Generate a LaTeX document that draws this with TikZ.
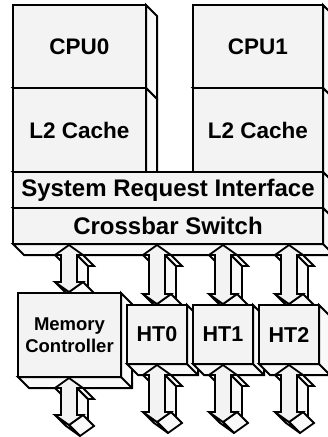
\documentclass[tikz,border=0pt]{standalone}
\usepackage{fontspec}
\setmainfont{Liberation Sans}
\definecolor{frontc}{RGB}{243,243,243}
\definecolor{sidec}{RGB}{249,249,249}
\tikzset{
  box/.style={draw=black, line width=2pt, fill=frontc, inner sep=0pt, align=center,
              font=\bfseries\fontsize{22.5}{24}\selectfont, line join=miter},
  bandtext/.style={font=\bfseries\fontsize{24}{26}\selectfont},
  mctext/.style={font=\bfseries\fontsize{18.5}{22}\selectfont},
  httext/.style={font=\bfseries\fontsize{21.5}{24}\selectfont},
  face/.style={draw=black, line width=2pt, fill=sidec, line join=miter},
  edge3d/.style={draw=black, line width=2pt},
  arrowf/.style={draw=black, line width=1.8pt, fill=frontc, line join=miter},
  arrowside/.style={draw=black, line width=1.8pt, fill=sidec, line join=miter}
}
\newcommand\dd{11}
% [style] name x1 y1 x2 y2 text
\newcommand\blk[7][]{%
  \filldraw[face] (#5,#4) -- ({#5+\dd},{#4+\dd}) -- ({#5+\dd},{#6+\dd}) -- ({#3+\dd},{#6+\dd}) -- (#3,#6) -- (#5,#6) -- cycle;
  \draw[edge3d] (#5,#6) -- ({#5+\dd},{#6+\dd});
  \node[box,#1,minimum width={#5-#3},minimum height={#6-#4}] (#2) at ({(#3+#5)/2},{(#4+#6)/2}) {#7};
}
% 3D double arrow: cx, top tip y, bottom tip y  (head half-width 14, shaft half-width 8, head length 10, depth 11)
\newcommand\arr[3]{%
  \filldraw[arrowside] ({#1-8},{#2+10}) -- ({#1-14},{#2+10}) -- ({#1-3},{#2+21}) -- ({#1+3},{#2+21}) -- cycle;
  \filldraw[arrowside] ({#1+8},{#2+10}) -- ({#1+8},{#3-10}) -- ({#1+19},{#3+1}) -- ({#1+19},{#2+21}) -- cycle;
  \filldraw[arrowside] ({#1+14},{#2+10}) -- ({#1+8},{#2+10}) -- ({#1+19},{#2+21}) -- ({#1+25},{#2+21}) -- cycle;
  \filldraw[arrowside] ({#1+14},{#3-10}) -- (#1,#3) -- ({#1+11},{#3+11}) -- ({#1+25},{#3+1}) -- cycle;
  \filldraw[arrowside] (#1,#3) -- ({#1-14},{#3-10}) -- ({#1-3},{#3+1}) -- ({#1+11},{#3+11}) -- cycle;
  \filldraw[arrowf] (#1,#2) -- ({#1+14},{#2+10}) -- ({#1+8},{#2+10}) -- ({#1+8},{#3-10}) -- ({#1+14},{#3-10})
     -- (#1,#3) -- ({#1-14},{#3-10}) -- ({#1-8},{#3-10}) -- ({#1-8},{#2+10}) -- ({#1-14},{#2+10}) -- cycle;
}
\begin{document}
\begin{tikzpicture}[x=1pt,y=-1pt]
\useasboundingbox (0,0) rectangle (328,437);
% processor columns
\blk{cpu0}{13}{5}{146}{88}{CPU0}
\blk{l2a}{13}{88}{146}{172}{L2 Cache}
\blk{cpu1}{193}{5}{323}{88}{CPU1}
\blk{l2b}{193}{88}{323}{172}{L2 Cache}
% band
\blk[bandtext]{sri}{13}{172}{323}{208}{System Request Interface}
\blk[bandtext]{xbar}{13}{208}{323}{244}{Crossbar Switch}
% upper arrows
\arr{69}{245}{292}
\arr{157}{245}{304}
\arr{223}{245}{304}
\arr{289}{245}{304}
% lower blocks
\blk[mctext]{mc}{18}{293}{121}{377}{Memory\\Controller}
\blk[httext]{ht0}{127}{305}{187}{364}{HT0}
\blk[httext]{ht1}{193}{305}{253}{364}{HT1}
\blk[httext]{ht2}{259}{305}{319}{364}{HT2}
% lower arrows
\arr{69}{378}{425}
\arr{157}{365}{422}
\arr{223}{365}{422}
\arr{289}{365}{422}
\end{tikzpicture}
\end{document}
